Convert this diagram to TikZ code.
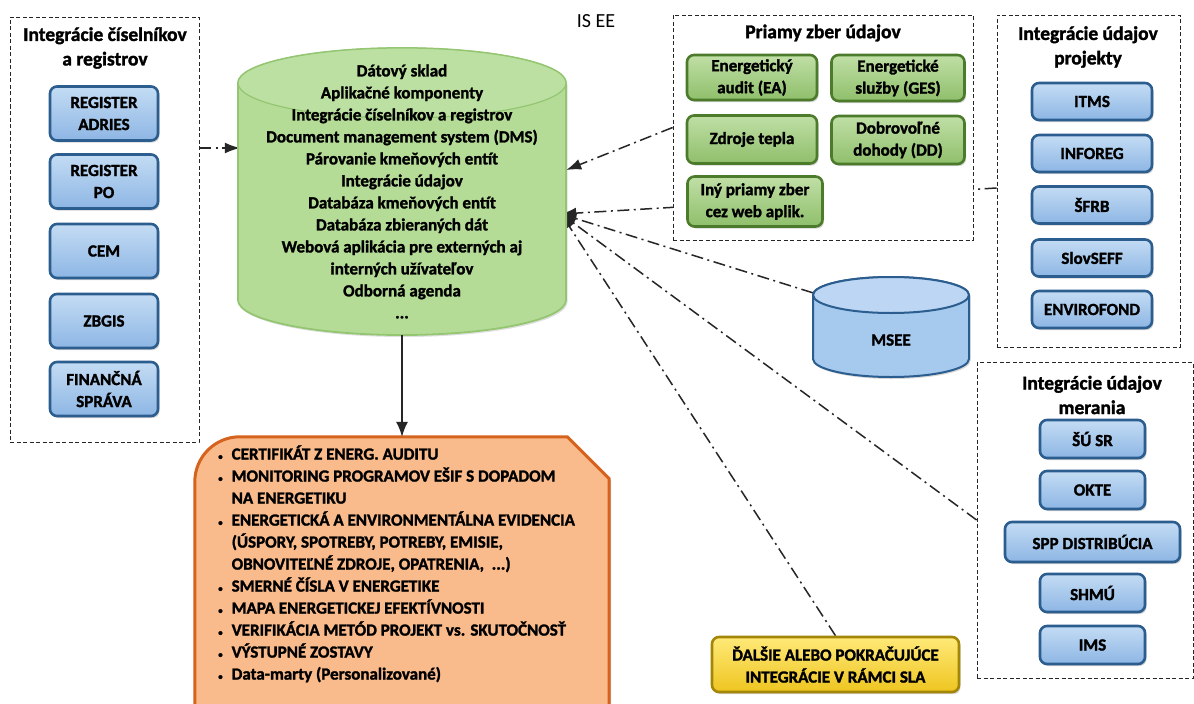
\documentclass[tikz,border=0pt]{standalone}
\usepackage{fontspec}
\setmainfont{Carlito}[BoldFeatures={FakeBold=1.6}]
\usetikzlibrary{arrows.meta,shadows,backgrounds}

\definecolor{blueline}{HTML}{2C5D8F}
\definecolor{bluetop}{HTML}{C4DCF4}
\definecolor{bluebot}{HTML}{8DB6E4}
\definecolor{greenline}{HTML}{4B7B2B}
\definecolor{greentop}{HTML}{C0DFA6}
\definecolor{greenbot}{HTML}{8FBF6B}
\definecolor{cylfill}{HTML}{B5DC97}
\definecolor{cyltop}{HTML}{BCE0A1}
\definecolor{cylline}{HTML}{94C672}
\definecolor{orangefill}{HTML}{FABB8C}
\definecolor{orangeline}{HTML}{D5621D}
\definecolor{goldtop}{HTML}{FFE978}
\definecolor{goldbot}{HTML}{EEC520}
\definecolor{goldline}{HTML}{A38608}
\definecolor{mseefill}{HTML}{A6C9EE}
\definecolor{mseetop}{HTML}{BCD6F3}

\begin{document}
\begin{tikzpicture}[x=1pt,y=-1pt,
   every node/.style={font=\bfseries\fontsize{17}{22}\selectfont,align=center,inner sep=0pt},
   grp/.style={draw=black!85,fill=white,line width=0.8pt,dash pattern=on 4pt off 2.5pt},
   grptitle/.style={font=\bfseries\fontsize{19.5}{24.5}\selectfont},
   bluebox/.style={draw=blueline,line width=2.6pt,rounded corners=7pt,top color=bluetop,bottom color=bluebot,
      drop shadow={shadow xshift=1.5pt,shadow yshift=-2pt,opacity=.35}},
   greenbox/.style={draw=greenline,line width=2.6pt,rounded corners=7pt,top color=greentop,bottom color=greenbot,
      drop shadow={shadow xshift=1.5pt,shadow yshift=-2pt,opacity=.35}},
   link/.style={draw=black!85,line width=1.5pt,dash pattern=on 12pt off 4.5pt on 2pt off 4.5pt,
      -{Latex[length=15pt,width=11pt]}}]
   \useasboundingbox (0,0) rectangle (1194,704);

   \node[font=\fontsize{20}{24}\selectfont] (isee) at (596,21) {IS EE};

   % ciselniky a registre
   \node[grp,minimum width=189,minimum height=425] (ciselniky) at (104.5,229.5) {};
   \node[grptitle] (ciselnikyt) at (105,48) {Integrácie číselníkov\\a registrov};
   \node[bluebox,minimum width=108,minimum height=54] (adries) at (104,113.5) {REGISTER\\ADRIES};
   \node[bluebox,minimum width=108,minimum height=54] (po) at (104,181.5) {REGISTER\\PO};
   \node[bluebox,minimum width=108,minimum height=54] (cem) at (104,251) {CEM};
   \node[bluebox,minimum width=108,minimum height=54] (zbgis) at (104,321) {ZBGIS};
   \node[bluebox,minimum width=108,minimum height=54] (fs) at (104,389) {FINANČNÁ\\SPRÁVA};

   % priamy zber
   \node[grp,minimum width=300,minimum height=225] (priamy) at (823,127.5) {};
   \node[grptitle] (priamyt) at (823,33) {Priamy zber údajov};
   \node[greenbox,minimum width=130,minimum height=45] (ea) at (752,77.5) {Energetický\\audit (EA)};
   \node[greenbox,minimum width=133,minimum height=46] (ges) at (898,78) {Energetické\\služby (GES)};
   \node[greenbox,minimum width=130,minimum height=48] (teplo) at (752,139.5) {Zdroje tepla};
   \node[greenbox,minimum width=133,minimum height=48] (dd) at (898,140) {Dobrovoľné\\dohody (DD)};
   \node[greenbox,minimum width=135,minimum height=50] (iny) at (755,201.5) {Iný priamy zber\\cez web aplik.};

   % projekty
   \node[grp,minimum width=183,minimum height=332] (projekty) at (1088.5,181) {};
   \node[grptitle] (projektyt) at (1088,47) {Integrácie údajov\\projekty};
   \foreach \n/\t/\y in {itms/ITMS/101.5,inforeg/INFOREG/153.5,sfrb/ŠFRB/205,slovseff/SlovSEFF/258,envirofond/ENVIROFOND/309.5}
      \node[bluebox,minimum width=120,minimum height=37] (\n) at (1092,\y) {\t};

   % merania
   \node[grp,minimum width=216,minimum height=316] (merania) at (1085,520) {};
   \node[grptitle] (meraniat) at (1092,395) {Integrácie údajov\\merania};
   \foreach \n/\t/\y in {susr/ŠÚ SR/439,okte/OKTE/490,shmu/SHMÚ/593,ims/IMS/645}
      \node[bluebox,minimum width=105,minimum height=38] (\n) at (1092.5,\y) {\t};
   \node[bluebox,minimum width=175,minimum height=40] (spp) at (1092.5,542) {SPP DISTRIBÚCIA};

   % datovy sklad
   \draw[draw=cylline,fill=cylfill,line width=1.8pt,drop shadow={shadow xshift=1.5pt,shadow yshift=-2pt,opacity=.25}]
      (238,83) -- (238,300)
      arc[start angle=180,end angle=0,x radius=164,y radius=35] -- (566,83)
      arc[start angle=0,end angle=-180,x radius=164,y radius=35] -- cycle;
   \draw[draw=cylline,fill=cyltop,line width=1.2pt] (402,83) ellipse[x radius=164,y radius=35];
   \node[minimum width=328,minimum height=287] (dw) at (402,191.5) {Dátový sklad\\Aplikačné komponenty\\
      Integrácie číselníkov a registrov\\Document management system (DMS)\\Párovanie kmeňových entít\\
      Integrácie údajov\\Databáza kmeňových entít\\Databáza zbieraných dát\\Webová aplikácia pre externých aj\\
      interných užívateľov\\Odborná agenda\\...};
   \coordinate (dwL) at ([xshift=2pt,yshift=43.5pt]dw.west);
   \coordinate (dwR1) at ([yshift=21.5pt]dw.east);
   \coordinate (dwR2) at ([xshift=-5pt,yshift=-22.5pt]dw.east);

   % MSEE
   \draw[draw=blueline,fill=mseefill,line width=2pt,drop shadow={shadow xshift=1.5pt,shadow yshift=-2pt,opacity=.3}]
      (813,295) -- (813,359) arc[start angle=180,end angle=0,x radius=78,y radius=18] -- (969,295)
      arc[start angle=0,end angle=-180,x radius=78,y radius=18] -- cycle;
   \draw[draw=blueline,fill=mseetop,line width=2pt] (891,295) ellipse[x radius=78,y radius=18];
   \node[minimum width=156,minimum height=100] (msee) at (891,327) {};
   \node (mseet) at ([yshift=-13pt]msee.center) {MSEE};

   % dalsie integracie
   \node[draw=goldline,line width=2.6pt,rounded corners=7pt,top color=goldtop,bottom color=goldbot,
      drop shadow={shadow xshift=1.5pt,shadow yshift=-2pt,opacity=.35},
      minimum width=247,minimum height=55] (sla) at (835.5,664.5) {ĎALŠIE ALEBO POKRAČUJÚCE\\INTEGRÁCIE V RÁMCI SLA};

   % vystupy
   \node[minimum width=414,minimum height=326] (outbox) at (402,600) {};
   \draw[draw=orangeline,fill=orangefill,line width=3pt,drop shadow={shadow xshift=2pt,shadow yshift=-2pt,opacity=.4}]
      (outbox.south west) -- ([yshift=-45pt]outbox.north west)
      arc[start angle=180,end angle=270,radius=45] -- ([xshift=-42pt]outbox.north east)
      -- ([yshift=-42pt]outbox.north east) -- (outbox.south east) -- cycle;
   \node[anchor=north west,align=left] (outtext) at (218,444) {\begin{tabular}{@{}l@{\hspace{9pt}}l@{}}
      {\small\textbullet} & CERTIFIKÁT Z ENERG. AUDITU\\
      {\small\textbullet} & MONITORING PROGRAMOV EŠIF S DOPADOM\\
                  & NA ENERGETIKU\\
      {\small\textbullet} & ENERGETICKÁ A ENVIRONMENTÁLNA EVIDENCIA\\
                  & (ÚSPORY, SPOTREBY, POTREBY, EMISIE,\\
                  & OBNOVITEĽNÉ ZDROJE, OPATRENIA,\ \ ...)\\
      {\small\textbullet} & SMERNÉ ČÍSLA V ENERGETIKE\\
      {\small\textbullet} & MAPA ENERGETICKEJ EFEKTÍVNOSTI\\
      {\small\textbullet} & VERIFIKÁCIA METÓD PROJEKT vs. SKUTOČNOSŤ\\
      {\small\textbullet} & VÝSTUPNÉ ZOSTAVY\\
      {\small\textbullet} & Data-marty (Personalizované)
   \end{tabular}};

   \draw[black!85,line width=1.5pt,-{Latex[length=15pt,width=12pt]}] (dw.south) -- (outbox.north);

   \begin{pgfonlayer}{background}
    \fill[white] (0,0) rectangle (1194,704);
    \draw[link] (ciselniky.east |- dwL) -- (dwL);
    \draw[link] (priamy.west) -- (dwR1);
    \draw[link] ([yshift=-7pt]projekty.west) -- (dwR2);
    \draw[link] ([yshift=-16pt]msee.north west) -- (dwR2);
    \draw[link] (merania.west) -- (dwR2);
    \draw[link] (sla.north) -- (dwR2);
   \end{pgfonlayer}
\end{tikzpicture}
\end{document}
